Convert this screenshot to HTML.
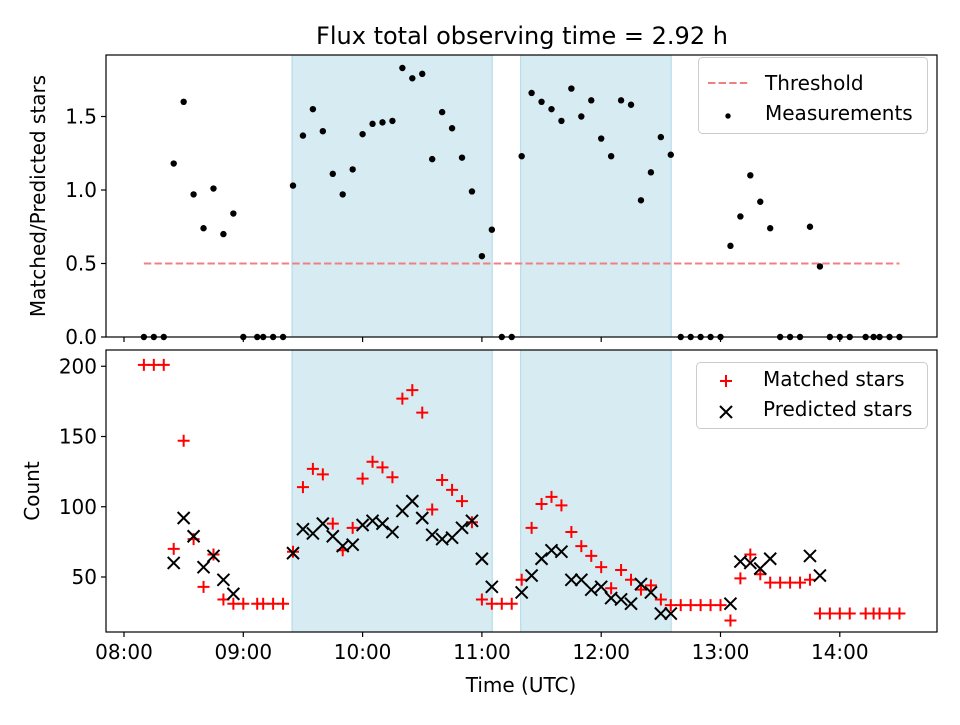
<!DOCTYPE html>
<html><head><meta charset="utf-8"><style>
body{margin:0;background:#fff;}
svg text{font-family:"DejaVu Sans","Liberation Sans",sans-serif;fill:#000;}
</style></head><body>
<svg id="c" width="960" height="720" xmlns="http://www.w3.org/2000/svg"></svg>
<script>
// minutes after 08:00 UTC
const times=[10,15,20,25,30,35,40,45,50,55,60,67,70,75,80,85,90,95,100,105,110,115,120,125,130,135,140,145,150,155,160,165,170,175,180,185,190,195,200,205,210,215,220,225,230,235,240,245,250,255,260,265,270,275,280,285,290,295,300,305,310,315,320,325,330,335,340,345,350,355,360,365,373,377,380,385,390];
const ratio=[0,0,0,1.18,1.60,0.97,0.74,1.01,0.70,0.84,0,0,0,0,0,1.03,1.37,1.55,1.40,1.11,0.97,1.14,1.38,1.45,1.46,1.47,1.83,1.76,1.79,1.21,1.53,1.42,1.22,0.99,0.55,0.73,0,0,1.23,1.66,1.60,1.55,1.47,1.69,1.50,1.61,1.35,1.23,1.61,1.58,0.93,1.12,1.36,1.24,0,0,0,0,0,0.62,0.82,1.10,0.92,0.74,0,0,0,0.75,0.48,0,0,0,0,0,0,0,0];
const matched=[201,201,201,70,147,77,43,66,34,31,31,31,31,31,31,68,114,127,123,88,69,85,120,132,128,121,177,183,167,98,119,112,104,89,34,31,31,31,48,85,102,107,101,82,72,65,57,42,55,48,41,44,34,30,30,30,30,30,30,19,49,66,52,46,46,46,46,48,24,24,24,24,24,24,24,24,24];
const predicted=[null,null,null,60,92,79,57,65,48,38,null,null,null,null,null,67,84,81,88,79,72,73,87,90,88,82,97,104,92,80,77,78,85,90,63,43,null,null,39,51,63,69,68,48,48,41,43,35,34,31,45,39,24,24,null,null,null,null,null,31,61,60,56,63,null,null,null,65,51,null,null,null,null,null,null,null,null];
const spans=[[84.5,185.2],[199.5,275.2]];
const threshold=0.5;
const topTicks=[0,0.5,1.0,1.5];
const botTicks=[50,100,150,200];
const xTicks=[0,60,120,180,240,300,360];
const xTickLabels=["08:00","09:00","10:00","11:00","12:00","13:00","14:00"];

const NS="http://www.w3.org/2000/svg";
const svg=document.getElementById('c');
function el(tag,attrs,parent,text){const e=document.createElementNS(NS,tag);for(const k in attrs)e.setAttribute(k,attrs[k]);if(text!==undefined)e.textContent=text;(parent||svg).appendChild(e);return e;}
const L=106,R=937,T1=55,B1=337,T2=350,B2=632;
const X=m=>124+m*(119.3/60);
const Y1=v=>B1-v*147;
const Y2=v=>577-(v-50)*1.405;

spans.forEach(s=>{[[T1,B1],[T2,B2]].forEach(([t,b])=>{
 const r=el('rect',{x:X(s[0]),y:t,width:X(s[1])-X(s[0]),height:b-t,fill:'#add8e6','fill-opacity':0.5,stroke:'#add8e6','stroke-width':1});
 
 
});});

const th=el('line',{x1:X(times[0]),x2:X(times[times.length-1]),y1:Y1(threshold),y2:Y1(threshold),stroke:'#f08080','stroke-width':2,'stroke-dasharray':'7.4,3.2'});



times.forEach((t,i)=>{const c=el('circle',{cx:X(t),cy:Y1(ratio[i]),r:3.2,fill:'#000'});
 
 });

times.forEach((t,i)=>{const x=X(t),y=Y2(matched[i]);
 const p=el('path',{d:`M${x-6},${y}H${x+6}M${x},${y-6}V${y+6}`,stroke:'#f00','stroke-width':2});
 
 });
times.forEach((t,i)=>{if(predicted[i]===null)return;const x=X(t),y=Y2(predicted[i]);
 const p=el('path',{d:`M${x-6},${y-6}L${x+6},${y+6}M${x-6},${y+6}L${x+6},${y-6}`,stroke:'#000','stroke-width':2});
 
 });

[[T1,B1,'top-panel-frame'],[T2,B2,'bottom-panel-frame']].forEach(([t,b,n])=>{const r=el('rect',{x:L,y:t,width:R-L,height:b-t,fill:'none',stroke:'#000','stroke-width':1.2});
 
 });

xTicks.forEach((m,i)=>{const x=X(m);
 el('line',{x1:x,x2:x,y1:B1,y2:B1+5,stroke:'#000','stroke-width':1.2});
 el('line',{x1:x,x2:x,y1:B2,y2:B2+5,stroke:'#000','stroke-width':1.2});
 const tx=el('text',{x:x,y:B2+27,'text-anchor':'middle','font-size':20},null,xTickLabels[i]);
 
 });
topTicks.forEach(v=>{const y=Y1(v);el('line',{x1:L-5,x2:L,y1:y,y2:y,stroke:'#000','stroke-width':1.2});
 const tx=el('text',{x:L-9,y:y+7,'text-anchor':'end','font-size':20},null,v.toFixed(1));
 
 });
botTicks.forEach(v=>{const y=Y2(v);el('line',{x1:L-5,x2:L,y1:y,y2:y,stroke:'#000','stroke-width':1.2});
 const tx=el('text',{x:L-9,y:y+7,'text-anchor':'end','font-size':20},null,String(v));
 
 });
</script>
<svg width="960" height="720" style="position:absolute;left:0;top:0" xmlns="http://www.w3.org/2000/svg">
<text x="522" y="44" text-anchor="middle" font-size="24">Flux total observing time = 2.92 h</text>
<text transform="translate(45,196) rotate(-90)" text-anchor="middle" font-size="20">Matched/Predicted stars</text>
<text transform="translate(39,491) rotate(-90)" text-anchor="middle" font-size="20">Count</text>
<text x="521" y="692" text-anchor="middle" font-size="20">Time (UTC)</text>
<g>
<rect x="698.5" y="57.5" width="229" height="76" rx="4" fill="#fff" fill-opacity="0.8" stroke="#ccc"/>
<line x1="708" x2="748" y1="83" y2="83" stroke="#f08080" stroke-width="2" stroke-dasharray="7.4,3.2"/>
<text x="765" y="90" font-size="20">Threshold</text>
<circle cx="728" cy="116" r="2.7" fill="#000"/>
<text x="765" y="120" font-size="20">Measurements</text>
</g>
<g>
<rect x="696.5" y="362.5" width="231" height="66" rx="4" fill="#fff" fill-opacity="0.8" stroke="#ccc"/>
<path d="M720,381H732M726,375V387" stroke="#f00" stroke-width="2"/>
<text x="763" y="386" font-size="20">Matched stars</text>
<path d="M720,406L732,418M720,418L732,406" stroke="#000" stroke-width="2"/>
<text x="763" y="416" font-size="20">Predicted stars</text>
</g>
</svg>
</body></html>
